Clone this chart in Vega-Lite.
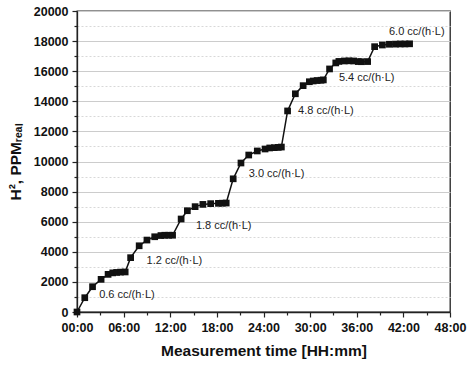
{
  "$schema": "https://vega.github.io/schema/vega-lite/v6.json",
  "width": 373,
  "height": 301,
  "autosize": {"type": "none"},
  "padding": {"left": 77, "top": 11, "right": 17, "bottom": 53},
  "background": "white",
  "config": {
    "view": {"stroke": "#222", "strokeWidth": 1.3},
    "font": "Liberation Sans",
    "axis": {"domainColor": "#222", "domainWidth": 1.3, "tickColor": "#222", "tickWidth": 1.2, "labelColor": "#111", "titleColor": "#111", "labelOverlap": false, "labelFlush": false}
  },
  "datasets": {
    "pts": [
      {"h": 0, "ppm": 0}, {"h": 1.0, "ppm": 950}, {"h": 2.0, "ppm": 1680}, {"h": 3.1, "ppm": 2170},
      {"h": 4.0, "ppm": 2500}, {"h": 4.6, "ppm": 2600}, {"h": 5.1, "ppm": 2630}, {"h": 5.6, "ppm": 2650},
      {"h": 6.2, "ppm": 2660}, {"h": 6.9, "ppm": 3610}, {"h": 8.0, "ppm": 4400}, {"h": 9.0, "ppm": 4780},
      {"h": 10.0, "ppm": 5000}, {"h": 10.8, "ppm": 5080}, {"h": 11.3, "ppm": 5100}, {"h": 11.8, "ppm": 5100},
      {"h": 12.3, "ppm": 5100}, {"h": 13.4, "ppm": 6180}, {"h": 14.2, "ppm": 6730}, {"h": 15.2, "ppm": 7000},
      {"h": 16.2, "ppm": 7150}, {"h": 17.2, "ppm": 7200}, {"h": 18.2, "ppm": 7220}, {"h": 18.7, "ppm": 7230},
      {"h": 19.2, "ppm": 7240}, {"h": 20.1, "ppm": 8850}, {"h": 21.1, "ppm": 9900}, {"h": 22.1, "ppm": 10430},
      {"h": 23.2, "ppm": 10700}, {"h": 24.2, "ppm": 10830}, {"h": 24.8, "ppm": 10900}, {"h": 25.4, "ppm": 10920},
      {"h": 25.9, "ppm": 10940}, {"h": 26.3, "ppm": 10960}, {"h": 27.1, "ppm": 13360}, {"h": 28.1, "ppm": 14500},
      {"h": 29.1, "ppm": 15040}, {"h": 29.9, "ppm": 15300}, {"h": 30.4, "ppm": 15350}, {"h": 30.9, "ppm": 15380},
      {"h": 31.4, "ppm": 15400}, {"h": 31.7, "ppm": 15420}, {"h": 32.5, "ppm": 16150}, {"h": 33.3, "ppm": 16550},
      {"h": 33.7, "ppm": 16650}, {"h": 34.4, "ppm": 16680}, {"h": 35.0, "ppm": 16690}, {"h": 35.6, "ppm": 16680},
      {"h": 36.2, "ppm": 16640}, {"h": 36.6, "ppm": 16630}, {"h": 37.4, "ppm": 16640}, {"h": 38.3, "ppm": 17630},
      {"h": 39.3, "ppm": 17740}, {"h": 40.2, "ppm": 17790}, {"h": 41.0, "ppm": 17800}, {"h": 41.6, "ppm": 17810},
      {"h": 42.2, "ppm": 17810}, {"h": 42.8, "ppm": 17820}
    ],
    "labels": [
      {"h": 2.85, "ppm": 1110, "t": "0.6 cc/(h·L)"},
      {"h": 8.95, "ppm": 3410, "t": "1.2 cc/(h·L)"},
      {"h": 15.3, "ppm": 5730, "t": "1.8 cc/(h·L)"},
      {"h": 22.1, "ppm": 9170, "t": "3.0 cc/(h·L)"},
      {"h": 28.45, "ppm": 13360, "t": "4.8 cc/(h·L)"},
      {"h": 33.7, "ppm": 15530, "t": "5.4 cc/(h·L)"},
      {"h": 40.15, "ppm": 18590, "t": "6.0 cc/(h·L)"}
    ]
  },
  "layer": [
    {
      "data": {"name": "labels"},
      "mark": {"type": "text", "opacity": 0},
      "encoding": {
        "x": {"field": "h", "type": "quantitative", "scale": {"domain": [0, 48], "nice": false},
          "axis": {"orient": "bottom", "values": [3, 9, 15, 21, 27, 33, 39, 45], "labels": false, "domain": false, "grid": false, "tickSize": 3, "title": null}},
        "y": {"field": "ppm", "type": "quantitative", "scale": {"domain": [0, 20000], "nice": false},
          "axis": {"orient": "left", "values": [1000, 3000, 5000, 7000, 9000, 11000, 13000, 15000, 17000, 19000], "labels": false, "domain": false, "grid": true, "gridColor": "#d8d8d8", "gridDash": [2, 2], "gridWidth": 1, "tickSize": 3, "title": null}},
        "text": {"field": "t"}
      }
    },
    {
      "data": {"name": "pts"},
      "mark": {"type": "line", "color": "#111", "strokeWidth": 1.5},
      "encoding": {
        "x": {"field": "h", "type": "quantitative", "scale": {"domain": [0, 48], "nice": false},
          "axis": {"orient": "bottom", "values": [0, 6, 12, 18, 24, 30, 36, 42, 48], "labelExpr": "(datum.value < 10 ? '0' : '') + datum.value + ':00'", "labelOverlap": false, "labelFlush": false, "grid": false, "tickSize": 5, "labelFontSize": 12.5, "labelFontWeight": "bold", "labelPadding": 4, "title": "Measurement time [HH:mm]", "titleFontSize": 15.5, "titleFontWeight": "bold", "titlePadding": 10}},
        "y": {"field": "ppm", "type": "quantitative", "scale": {"domain": [0, 20000], "nice": false},
          "axis": {"orient": "left", "values": [0, 2000, 4000, 6000, 8000, 10000, 12000, 14000, 16000, 18000, 20000], "format": "d", "labelOverlap": false, "labelFlush": false, "grid": true, "gridColor": "#cccccc", "gridWidth": 1, "tickSize": 5, "labelFontSize": 12.5, "labelFontWeight": "bold", "labelPadding": 4, "title": "H², PPMᵣₑₐₗ", "titleFontSize": 15.5, "titleFontWeight": "bold", "titlePadding": 10}}
      }
    },
    {
      "data": {"name": "pts"},
      "mark": {"type": "point", "shape": "square", "size": 45, "filled": true, "color": "#111", "opacity": 1},
      "encoding": {
        "x": {"field": "h", "type": "quantitative", "axis": null},
        "y": {"field": "ppm", "type": "quantitative", "axis": null}
      }
    },
    {
      "data": {"name": "labels"},
      "mark": {"type": "text", "align": "left", "baseline": "middle", "fontSize": 11, "color": "#222", "font": "Liberation Sans"},
      "encoding": {
        "x": {"field": "h", "type": "quantitative", "axis": null},
        "y": {"field": "ppm", "type": "quantitative", "axis": null},
        "text": {"field": "t"}
      }
    }
  ],
  "resolve": {"axis": {"x": "independent", "y": "independent"}}
}
